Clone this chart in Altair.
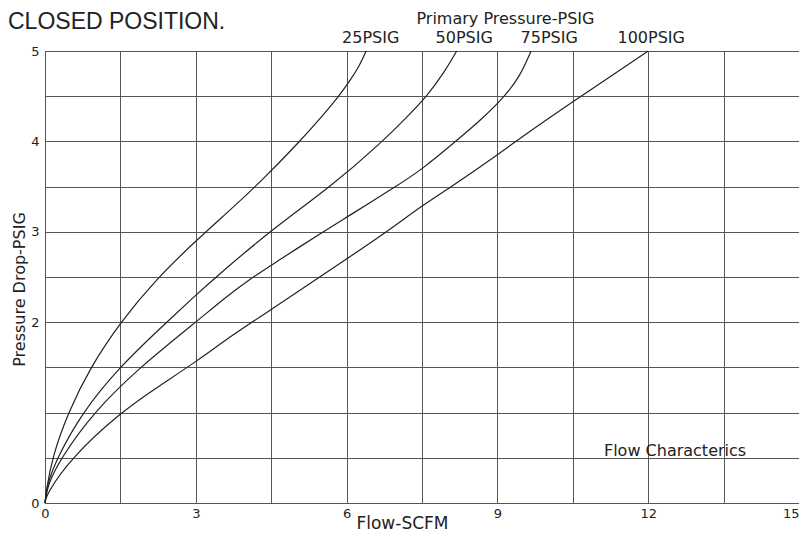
import altair as alt
import pandas as pd

# ---- data ----
series_names = ["25PSIG", "50PSIG", "75PSIG", "100PSIG"]

flow_25 = [0, 0.03, 0.14, 0.46, 0.9, 1.5, 2.2, 3.0, 3.6, 4.27, 5.07, 5.5, 5.85, 6.1, 6.25, 6.39]
drop_25 = [0, 0.15, 0.5, 1.0, 1.5, 2.0, 2.47, 2.9, 3.2, 3.54, 4.0, 4.27, 4.5, 4.7, 4.83, 5.0]

flow_50 = [0, 0.04, 0.24, 0.74, 1.47, 2.42, 3.0, 3.4, 4.5, 5.69, 6.72, 7.2, 7.6, 7.95, 8.19]
drop_50 = [0, 0.2, 0.5, 1.0, 1.5, 2.0, 2.3, 2.5, 3.02, 3.5, 4.0, 4.27, 4.5, 4.77, 5.0]

flow_75 = [0, 0.05, 0.32, 0.96, 1.88, 3.0, 3.6, 4.11, 4.5, 5.53, 6.0, 6.98, 7.5, 8.17, 8.7, 9.15, 9.45, 9.67]
drop_75 = [0, 0.2, 0.5, 1.0, 1.5, 2.0, 2.28, 2.49, 2.63, 3.0, 3.16, 3.5, 3.69, 4.0, 4.25, 4.5, 4.72, 5.0]

flow_100 = [0, 0.03, 0.52, 1.5, 2.2, 3.0, 3.68, 4.5, 5.36, 6.0, 6.8, 7.5, 8.09, 9.0, 9.36, 10.5, 12.0]
drop_100 = [0, 0.1, 0.5, 1.0, 1.27, 1.56, 1.84, 2.14, 2.46, 2.70, 3.0, 3.29, 3.5, 3.85, 4.0, 4.44, 5.0]

label_x = [6.48, 8.34, 10.03, 12.06]          # positions of the curve labels (flow units)
header_text = "Primary Pressure-PSIG"
header_x = 9.16
note_text = "Flow Characterics"
note_x = [11.12]
note_y = [0.52]
top_title = "CLOSED POSITION."

x_grid = [i * 1.5 for i in range(11)]
y_grid = [i * 0.5 for i in range(11)]

# ---- build tables ----
rows = []
for name, fx, dy in zip(series_names,
                        [flow_25, flow_50, flow_75, flow_100],
                        [drop_25, drop_50, drop_75, drop_100]):
    for i, (a, b) in enumerate(zip(fx, dy)):
        rows.append({"series": name, "flow": a, "drop": b, "order": i})
curves = pd.DataFrame(rows)
labels = pd.DataFrame({"series": series_names, "flow": label_x})
note = pd.DataFrame({"text": [note_text], "flow": note_x, "drop": note_y})
header = pd.DataFrame({"text": [header_text], "flow": [header_x]})
top = pd.DataFrame({"text": [top_title]})

FONT = "DejaVu Sans"
INK = "#222222"
GRID = "#555555"

xs = alt.Scale(domain=[0, 15], nice=False, zero=False)
ys = alt.Scale(domain=[0, 5], nice=False, zero=False)

x_axis = alt.Axis(
    values=x_grid, grid=True, ticks=False, tickSize=0, labelPadding=4,
    labelExpr="datum.value % 3 == 0 ? ('' + datum.value) : ''",
    labelAlign={"condition": {"test": "datum.value >= 15", "value": "right"}, "value": "center"},
    labelFlush=False, labelOverlap=False, labelFont=FONT, labelFontSize=13, labelColor=INK,
    gridColor=GRID, gridOpacity=1, gridWidth=1, domainColor=GRID, domainWidth=1,
    title="Flow-SCFM", titleFont=FONT, titleFontSize=17, titleFontWeight="normal", titleColor=INK,
    titleX=357, titleY=25, titleAlign="center", titleBaseline="alphabetic", titleAnchor="start",
)
y_axis = alt.Axis(
    values=y_grid, grid=True, ticks=False, tickSize=0, labelPadding=6,
    labelExpr="(datum.value == 1 || datum.value != floor(datum.value)) ? '' : ('' + datum.value)",
    labelFlush=False, labelOverlap=False, labelFont=FONT, labelFontSize=13, labelColor=INK,
    gridColor=GRID, gridOpacity=1, gridWidth=1, domainColor=GRID, domainWidth=1,
    title="Pressure Drop-PSIG", titleFont=FONT, titleFontSize=16, titleFontWeight="normal", titleColor=INK,
    titleAngle=270, titleX=-21, titleY=238, titleAlign="center", titleBaseline="alphabetic", titleAnchor="start",
)

X = alt.X("flow:Q", scale=xs, axis=x_axis)
Y = alt.Y("drop:Q", scale=ys, axis=y_axis)

lines = alt.Chart(curves).mark_line(
    color=INK, strokeWidth=1.2, interpolate="basis"
).encode(x=X, y=Y, detail="series:N", order="order:Q")

curve_labels = alt.Chart(labels).mark_text(
    font=FONT, fontSize=16, color=INK, align="center", baseline="alphabetic"
).encode(x=X, y=alt.value(-8), text="series:N")

header_label = alt.Chart(header).mark_text(
    font=FONT, fontSize=16, color=INK, align="center", baseline="alphabetic"
).encode(x=X, y=alt.value(-27), text="text:N")

note_label = alt.Chart(note).mark_text(
    font=FONT, fontSize=16, color=INK, align="left", baseline="alphabetic"
).encode(x=X, y=Y, text="text:N")

top_label = alt.Chart(top).mark_text(
    font="Liberation Sans", fontSize=23, color=INK, align="left", baseline="alphabetic"
).encode(x=alt.value(-37), y=alt.value(-22), text="text:N")

chart = alt.layer(lines, curve_labels, header_label, note_label, top_label).properties(
    width=754, height=452,
    padding={"left": 37, "top": 43, "right": 0, "bottom": 29},
    autosize=alt.AutoSizeParams(type="none"),
    background="white",
).configure_view(stroke=GRID, strokeWidth=1)

chart.save("out.html", embed_options={"renderer": "svg", "actions": False})
